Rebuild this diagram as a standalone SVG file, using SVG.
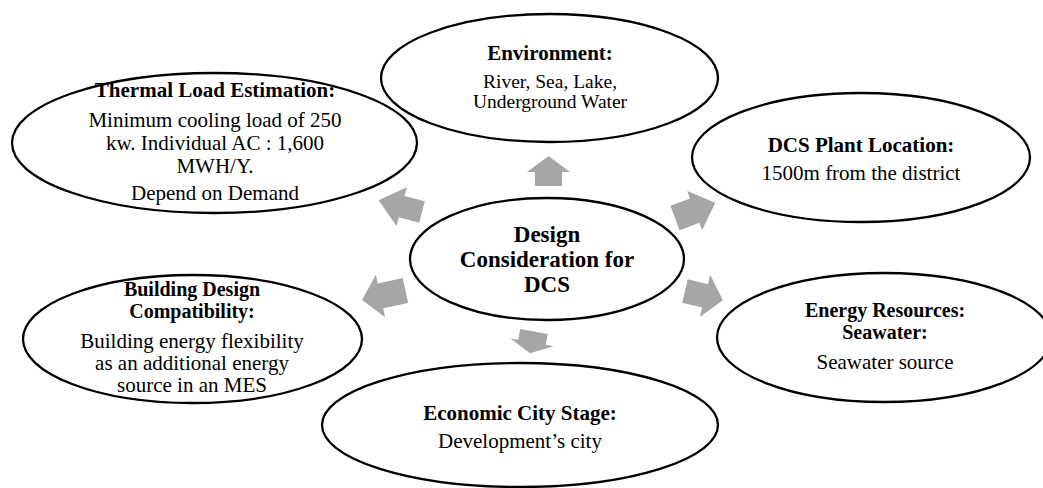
<svg xmlns="http://www.w3.org/2000/svg" width="1043" height="488" viewBox="0 0 1043 488">
  <style>
    .node ellipse { fill: none; stroke: #000; stroke-width: 2.3; }
    text { font-family: "Liberation Serif", "Times New Roman", serif; fill: #000; text-anchor: middle; }
    .t { font-weight: bold; font-size: 21px; }
    .t2 { font-weight: bold; font-size: 20px; }
    .b { font-size: 21px; }
    .s { font-size: 19.5px; }
    .c { font-weight: bold; font-size: 23px; }
    .arrow { fill: #a6a6a6; stroke: none; }
  </style>

  <!-- block arrows radiating from the centre; each is drawn along +x and placed by transform -->
  <g id="connectors">
    <polygon class="arrow" transform="translate(548.5,186) rotate(-90)" points="0,-13.5 14,-13.5 14,-21.5 30,0 14,21.5 14,13.5 0,13.5"/>
    <polygon class="arrow" transform="translate(675,218) rotate(-20.6)" points="0,-13 21,-13 21,-21 43,0 21,21 21,13 0,13"/>
    <polygon class="arrow" transform="translate(685,291) rotate(13.7)" points="0,-12 20.6,-12 20.6,-21.7 39,0 20.6,21.7 20.6,12 0,12"/>
    <polygon class="arrow" transform="translate(534,331.5) rotate(100.5)" points="0,-14 11,-14 11,-22 22,0 11,22 11,14 0,14"/>
    <polygon class="arrow" transform="translate(405.5,290.5) rotate(167.7)" points="0,-12.7 25.6,-12.7 25.6,-21.7 44.5,0 25.6,21.7 25.6,12.7 0,12.7"/>
    <polygon class="arrow" transform="translate(422,212) rotate(195)" points="0,-11 21,-11 21,-20 45,0 21,20 21,11 0,11"/>
  </g>

  <g id="center" class="node">
    <ellipse cx="547" cy="259" rx="137" ry="61"/>
    <text class="c" x="547" y="242">Design</text>
    <text class="c" x="547" y="267">Consideration for</text>
    <text class="c" x="547" y="292">DCS</text>
  </g>

  <g id="environment" class="node">
    <ellipse cx="549.5" cy="78" rx="168.5" ry="64"/>
    <text class="t" x="550" y="60">Environment:</text>
    <text class="s" x="550" y="88">River, Sea, Lake,</text>
    <text class="s" x="550" y="108">Underground Water</text>
  </g>

  <g id="plant-location" class="node">
    <ellipse cx="861" cy="157.5" rx="169" ry="64.5"/>
    <text class="t" x="861" y="152">DCS Plant Location:</text>
    <text class="b" x="861" y="180">1500m from the district</text>
  </g>

  <g id="energy-resources" class="node">
    <ellipse cx="884" cy="337.5" rx="167" ry="64.5"/>
    <text class="t2" x="885" y="317">Energy Resources:</text>
    <text class="t2" x="885" y="339">Seawater:</text>
    <text class="b" x="885" y="369">Seawater source</text>
  </g>

  <g id="economic-stage" class="node">
    <ellipse cx="520" cy="425" rx="198" ry="62"/>
    <text class="t" x="520" y="420">Economic City Stage:</text>
    <text class="b" x="520" y="448">Development’s city</text>
  </g>

  <g id="building-design" class="node">
    <ellipse cx="192.5" cy="339" rx="169.5" ry="64"/>
    <text class="t2" x="192" y="296">Building Design</text>
    <text class="t2" x="192" y="318">Compatibility:</text>
    <text class="b" x="192" y="348">Building energy flexibility</text>
    <text class="b" x="192" y="370">as an additional energy</text>
    <text class="b" x="192" y="392">source in an MES</text>
  </g>

  <g id="thermal-load" class="node">
    <ellipse cx="214.5" cy="143" rx="202.5" ry="70"/>
    <text class="t" x="215" y="97">Thermal Load Estimation:</text>
    <text class="b" x="215" y="127">Minimum cooling load of 250</text>
    <text class="b" x="215" y="150">kw. Individual AC : 1,600</text>
    <text class="b" x="215" y="173">MWH/Y.</text>
    <text class="b" x="215" y="200">Depend on Demand</text>
  </g>
</svg>
